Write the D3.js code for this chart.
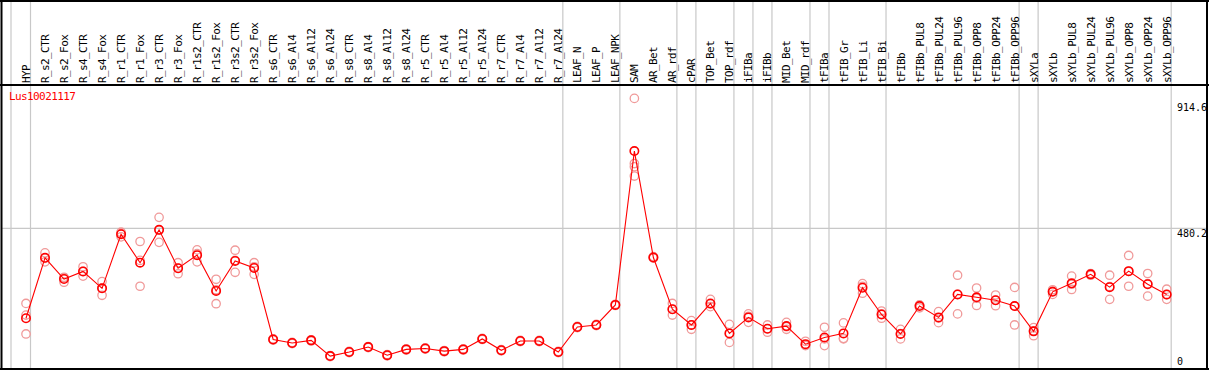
<!DOCTYPE html>
<html>
<head>
<meta charset="utf-8">
<script src="https://cdn.jsdelivr.net/npm/d3@7/dist/d3.min.js"></script>
<style>
  html, body { margin: 0; padding: 0; background: #fff; }
  svg { display: block; }
  text { font-family: "DejaVu Sans Mono", "Liberation Mono", monospace; font-size: 11px; letter-spacing: -0.6px; }
</style>
</head>
<body>
<svg id="chart" width="1209" height="370"></svg>
<script>
const categories = ["HYP","R_s2_CTR","R_s2_Fox","R_s4_CTR","R_s4_Fox","R_r1_CTR","R_r1_Fox","R_r3_CTR","R_r3_Fox","R_r1s2_CTR","R_r1s2_Fox","R_r3s2_CTR","R_r3s2_Fox","R_s6_CTR","R_s6_Al4","R_s6_Al12","R_s6_Al24","R_s8_CTR","R_s8_Al4","R_s8_Al12","R_s8_Al24","R_r5_CTR","R_r5_Al4","R_r5_Al12","R_r5_Al24","R_r7_CTR","R_r7_Al4","R_r7_Al12","R_r7_Al24","LEAF_N","LEAF_P","LEAF_NPK","SAM","AR_Bet","AR_rdf","cPAR","TOP_Bet","TOP_rdf","iFIBa","iFIBb","MID_Bet","MID_rdf","tFIBa","tFIB_Gr","tFIB_Li","tFIB_Bi","tFIBb","tFIBb_PUL8","tFIBb_PUL24","tFIBb_PUL96","tFIBb_OPP8","tFIBb_OPP24","tFIBb_OPP96","sXYLa","sXYLb","sXYLb_PUL8","sXYLb_PUL24","sXYLb_PUL96","sXYLb_OPP8","sXYLb_OPP24","sXYLb_OPP96"];

const means = [171,379,306,332,274,460,362,475,343,388,265,368,344,98,86,95,41,55,72,44,64,67,58,64,100,61,93,93,55,141,148,217,746,380,202,148,222,119,174,135,144,82,105,119,276,184,117,213,174,253,243,233,213,126,262,291,322,278,333,288,253];

const replicates = [
  [222,182,117],[396,377,365],[312,295,310],[348,316,332],[297,250,275],
  [462,451,467],[435,281,370],[518,432,475],[362,324,343],[406,365,393],
  [305,221,269],[405,329,370],[362,322,348],[100,96,99],[88,84,86],
  [97,93,95],[43,39,41],[57,53,55],[74,70,72],[46,42,44],
  [66,62,64],[69,65,67],[60,56,58],[66,62,64],[102,98,100],
  [63,59,61],[95,91,93],[95,91,93],[57,53,55],[143,139,141],
  [150,146,148],[219,215,217],[927,703,692,660],[383,378,380],[222,182,202],
  [163,133,148],[236,211,220],[150,88,119],[186,157,178],[148,123,135],
  [157,133,142],[92,77,80],[140,77,100],[155,102,100],[290,257,281],
  [196,171,186],[133,100,118],[217,207,215],[194,156,172],[319,186,253],
  [275,215,240],[251,214,233],[277,148,213],[139,111,128],[269,253,264],
  [316,270,288],[325,319,322],[319,236,280],[387,281,332],[325,247,290],
  [271,236,252]
];

const groupEnds = ["HYP","R_r7_Al24","LEAF_NPK","AR_rdf","cPAR","TOP_rdf","iFIBa","iFIBb","MID_rdf","tFIBa","tFIB_Bi","tFIBb_OPP96","sXYLa","sXYLb_OPP96"];
const yTicks = [0, 480.2, 914.6];
const geneLabel = "Lus10021117";

const W = 1209, H = 370;
const headerBottom = 85, plotBottom = 369;
const svg = d3.select("#chart");

const x = d3.scalePoint().domain(categories).range([26, 1166.7]);
const y = d3.scaleLinear().domain([0, 914.6]).range([368, 102]);

// separators (gray)
const grid = svg.append("g").attr("stroke", "#c8c8c8").attr("stroke-width", 1.2);
grid.append("line")
  .attr("x1", x(categories[0]) - 15).attr("x2", x(categories[0]) - 15)
  .attr("y1", 0).attr("y2", H);
grid.selectAll("line.sep").data(groupEnds).join("line").attr("class", "sep")
  .attr("x1", d => x(d) + 4.5).attr("x2", d => x(d) + 4.5)
  .attr("y1", 0).attr("y2", H);
grid.append("line")
  .attr("x1", 1).attr("x2", W - 2)
  .attr("y1", y(480.2)).attr("y2", y(480.2));

// frame
const frame = svg.append("g").attr("stroke", "#000").attr("stroke-width", 2).attr("fill", "none");
frame.append("line").attr("x1", 0).attr("x2", W).attr("y1", 1).attr("y2", 1);
frame.append("line").attr("x1", 1.5).attr("x2", 1.5).attr("y1", 0).attr("y2", H);
frame.append("line").attr("x1", W - 2).attr("x2", W - 2).attr("y1", 0).attr("y2", H);
frame.append("line").attr("x1", 0).attr("x2", W).attr("y1", headerBottom).attr("y2", headerBottom);
frame.append("line").attr("x1", 0).attr("x2", W).attr("y1", plotBottom).attr("y2", plotBottom);

// header labels
svg.append("g").selectAll("text").data(categories).join("text")
  .attr("transform", d => `translate(${x(d) + 4},83) rotate(-90)`)
  .attr("fill", "#000")
  .text(d => d);

// gene label
svg.append("text").attr("x", 9).attr("y", 100).attr("fill", "#f00")
  .text(geneLabel);

// y labels
svg.append("g").selectAll("text").data(yTicks).join("text")
  .attr("x", 1177)
  .attr("y", d => d === 0 ? y(d) - 3 : y(d) + 9)
  .attr("fill", "#000")
  .style("font-size", "10px").style("letter-spacing", "0px")
  .text(d => d === 0 ? "0" : d.toFixed(1));

// replicates
const repData = [];
categories.forEach((c, i) => replicates[i].forEach(v => repData.push({c, v})));
svg.append("g").selectAll("circle").data(repData).join("circle")
  .attr("cx", d => x(d.c)).attr("cy", d => y(d.v)).attr("r", 4.2)
  .attr("fill", "none").attr("stroke", "#f09a9a").attr("stroke-width", 1.3);

// line
const line = d3.line().x((d, i) => x(categories[i])).y(d => y(d));
svg.append("path").datum(means).attr("d", line)
  .attr("fill", "none").attr("stroke", "#f00").attr("stroke-width", 1.1);

// means
svg.append("g").selectAll("circle").data(means).join("circle")
  .attr("cx", (d, i) => x(categories[i])).attr("cy", d => y(d)).attr("r", 4.2)
  .attr("fill", "none").attr("stroke", "#f00").attr("stroke-width", 1.6);
</script>
</body>
</html>
